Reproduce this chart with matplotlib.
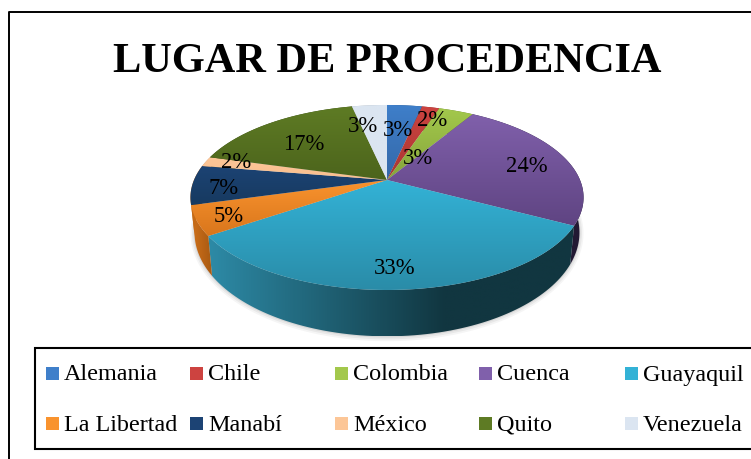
import numpy as np
import matplotlib
matplotlib.use('Agg')
import matplotlib.pyplot as plt
from matplotlib.patches import Polygon, Rectangle
from matplotlib.colors import LinearSegmentedColormap

# Lugar de procedencia, number of people
lugares = ['Alemania', 'Chile', 'Colombia', 'Cuenca', 'Guayaquil',
           'La Libertad', 'Manabí', 'México', 'Quito', 'Venezuela']
conteo = [2, 1, 2, 14, 19, 3, 4, 1, 10, 2]
color_alto = ['#3f7fca', '#cd4340', '#a3c84c', '#8060ab', '#33b2d6',
              '#f9932e', '#1c4374', '#fcc697', '#5e7b24', '#dbe5f1']
color_bajo = ['#3468a8', '#a83632', '#86a53b', '#5f4482', '#2a8ca8',
              '#d9761c', '#173a60', '#fabf8f', '#4c641c', '#dbe5f1']
pared_izq = ['#24507f', '#7a2624', '#5f7629', '#2a1f3d', '#2d8aa6',
             '#d0701a', '#c46a16', '#c99a70', '#36471a', '#a8b0ba']
pared_der = ['#24507f', '#7a2624', '#5f7629', '#221933', '#113640',
             '#a85a12', '#c46a16', '#c99a70', '#36471a', '#a8b0ba']

titulo = 'LUGAR DE PROCEDENCIA'
fuente = 'Liberation Serif'

# perspective of the pie, in pixels
cx, cy = 387.0, 180.0
a, b, k = 193.0, 89.2, 0.189
a2, b2, cy2 = 189.0, 100.0, 213.0


def rim(theta, a_, b_, cy_):
    u, v = np.sin(theta), np.cos(theta)
    d = 1 + k * v
    return cx + a_ * u / d, cy_ - b_ * v / d


def relleno(verts, c0, c1, horizontal, z, corte=1.0):
    # gradient image clipped to a polygon
    x0, x1 = verts[:, 0].min(), verts[:, 0].max()
    y0, y1 = verts[:, 1].min(), verts[:, 1].max()
    cmap = LinearSegmentedColormap.from_list('c', [c0, c1])
    g = np.clip(np.linspace(0, 1, 200) / corte, 0, 1)
    g = g.reshape(1, -1) if horizontal else g.reshape(-1, 1)
    im = ax.imshow(g, cmap=cmap, vmin=0, vmax=1, aspect='auto',
                   extent=[x0, x1, y1, y0], zorder=z, interpolation='bilinear')
    clip = Polygon(verts, transform=ax.transData, fc='none', ec='none', zorder=z)
    ax.add_patch(clip)
    im.set_clip_path(clip)


fig = plt.figure(figsize=(7.51, 4.59), dpi=100)
ax = fig.add_axes([0, 0, 1, 1])

# outer frame and legend frame
ax.plot([760, 9, 9], [11.5, 11.5, 470], color='black', lw=1.4)
ax.add_patch(Rectangle((35, 347.5), 730, 101.5, fc='white', ec='black', lw=1.5))

fracs = np.array(conteo) / sum(conteo)
bordes = np.concatenate([[0], np.cumsum(fracs)]) * 2 * np.pi

# soft shadow under the pie
t = np.linspace(0, 2 * np.pi, 200)
for grow, alpha in [(4, 0.04), (2.5, 0.05), (1, 0.07)]:
    x, y = rim(t, a2 + grow, b2 + grow, cy2)
    ax.add_patch(Polygon(np.c_[x, y], fc='black', ec='none', alpha=alpha, zorder=1))

# side wall of each slice
for i in range(len(conteo)):
    t = np.linspace(bordes[i], bordes[i + 1], 80)
    x1, y1 = rim(t, a, b, cy)
    x2, y2 = rim(t, a2, b2, cy2)
    verts = np.r_[np.c_[x1, y1], np.c_[x2, y2][::-1]]
    corte = 0.65 if lugares[i] == 'Guayaquil' else 1.0
    relleno(verts, pared_izq[i], pared_der[i], True, 2, corte)

# top of the pie, each slice with a vertical gradient
for i in range(len(conteo)):
    t = np.linspace(bordes[i], bordes[i + 1], 80)
    x, y = rim(t, a, b, cy)
    verts = np.r_[[[cx, cy]], np.c_[x, y]]
    relleno(verts, color_alto[i], color_bajo[i], False, 3)

# percent labels
pos_x = [398, 432, 418, 527, 395, 229, 224, 236, 304, 363]
pos_y = [130, 120, 159, 167, 269, 217, 188, 162, 145, 127]
for i in range(len(conteo)):
    ax.text(pos_x[i], pos_y[i], f'{round(fracs[i] * 100)}%', ha='center', va='center',
            family=fuente, fontsize=16.3, color='black', zorder=5)

ax.text(387.5, 62, titulo, ha='center', va='center', family=fuente, weight='bold',
        fontsize=30.5, color='black')

# legend in two rows of five
col_x = [46, 190, 335, 479, 625, 46, 190, 335, 479, 625]
caja_y = [373, 373, 373, 373, 373, 423.5, 423.5, 423.5, 423.5, 423.5]
for i in range(len(lugares)):
    ax.add_patch(Rectangle((col_x[i], caja_y[i] - 6.5), 13, 13, fc=color_alto[i], ec='none'))
    ax.text(col_x[i] + 18, caja_y[i] + 7.5, lugares[i], ha='left', va='baseline', family=fuente,
            fontsize=17.4, color='black')

ax.set_xlim(0, 751)
ax.set_ylim(459, 0)
ax.axis('off')
fig.savefig('out.png', dpi=100)
